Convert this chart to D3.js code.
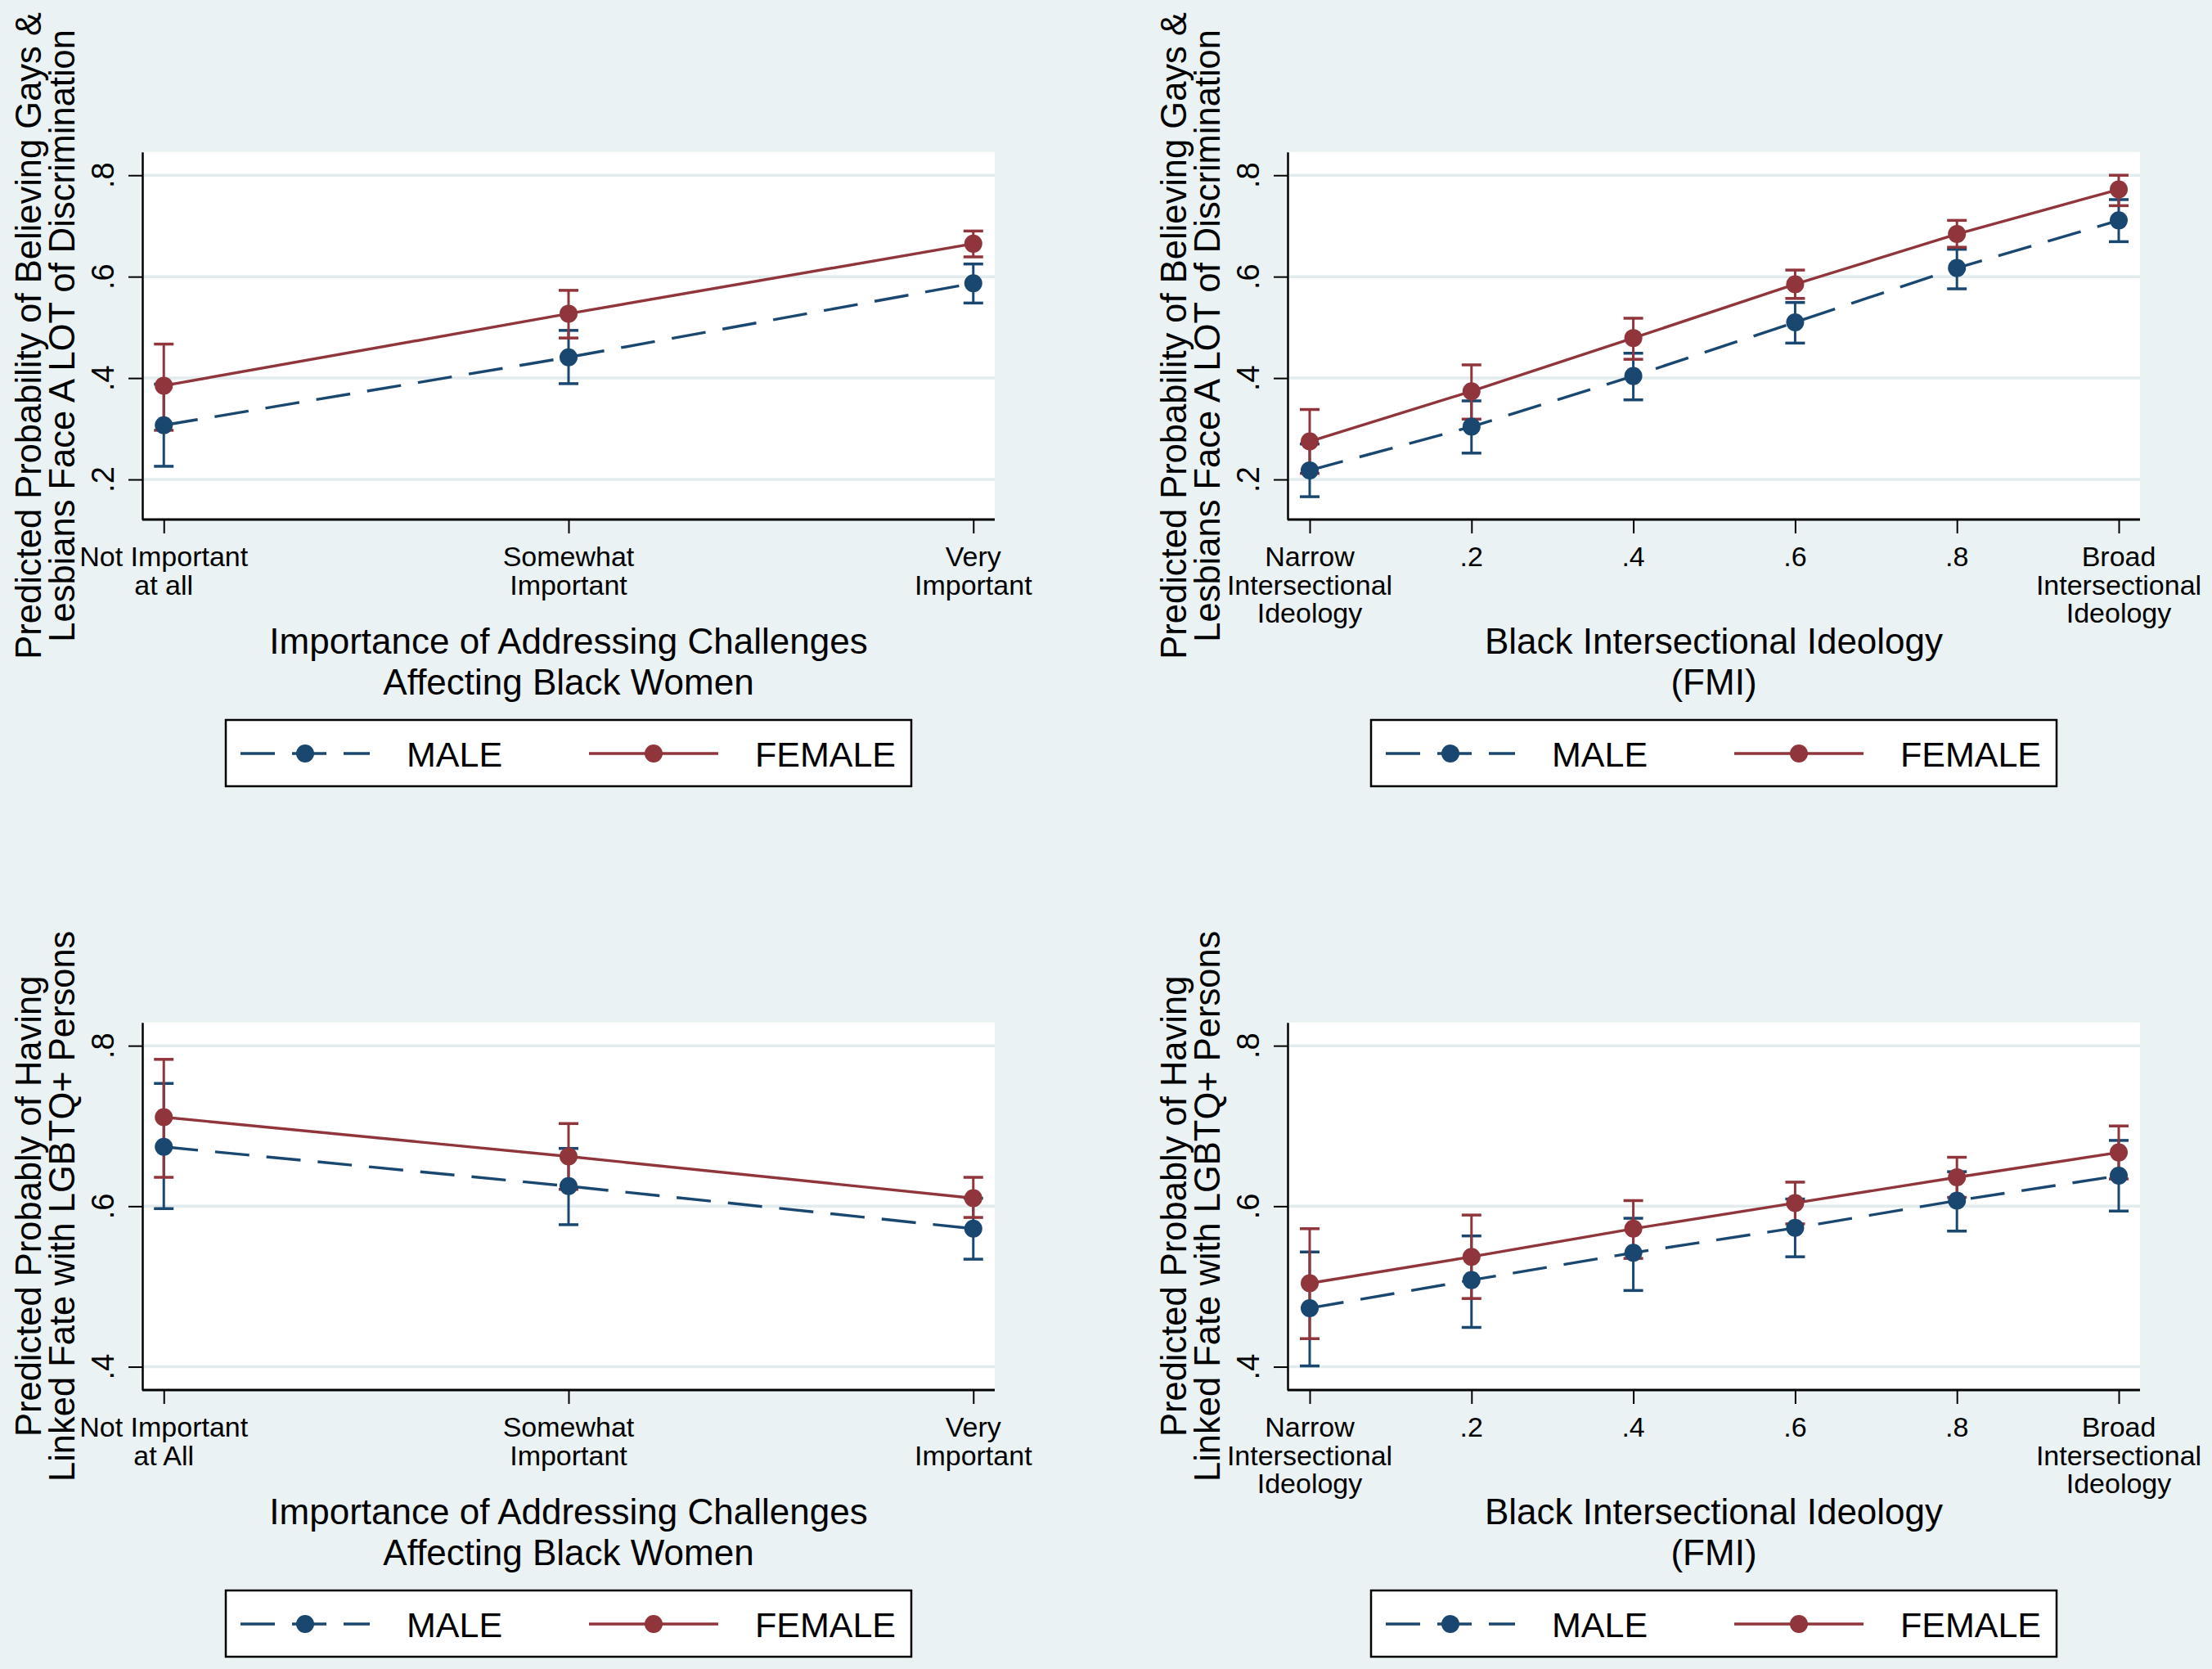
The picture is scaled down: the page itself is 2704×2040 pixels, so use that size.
<!DOCTYPE html>
<html><head><meta charset="utf-8">
<script src="https://cdn.jsdelivr.net/npm/d3@7"></script>
<style>html,body{margin:0;padding:0;background:#eaf2f3;} svg{display:block;}</style>
</head><body><svg id="chart"></svg>
<script>
// ---------- DATA ----------
const importanceCatsTop = ["Not Important\nat all", "Somewhat\nImportant", "Very\nImportant"];
const importanceCatsBottom = ["Not Important\nat All", "Somewhat\nImportant", "Very\nImportant"];
const fmiValues = [0, 0.2, 0.4, 0.6, 0.8, 1];
const fmiLabels = ["Narrow\nIntersectional\nIdeology", ".2", ".4", ".6", ".8", "Broad\nIntersectional\nIdeology"];
const yTicksTop = [0.2, 0.4, 0.6, 0.8];
const yTicksBottom = [0.4, 0.6, 0.8];
const seriesNames = ["MALE", "FEMALE"];

const yTitleTop = ["Predicted Probability of Believing Gays &", "Lesbians Face A LOT of Discrimination"];
const yTitleBottom = ["Predicted Probably of Having", "Linked Fate with LGBTQ+ Persons"];
const xTitleImportance = ["Importance of Addressing Challenges", "Affecting Black Women"];
const xTitleFMI = ["Black Intersectional Ideology", "(FMI)"];

// Panel 1: discrimination by importance
const p1Male = [0.307, 0.441, 0.587];
const p1MaleLo = [0.226, 0.389, 0.548];
const p1MaleHi = [0.388, 0.494, 0.625];
const p1Female = [0.385, 0.527, 0.665];
const p1FemaleLo = [0.297, 0.479, 0.639];
const p1FemaleHi = [0.467, 0.573, 0.690];

// Panel 2: discrimination by FMI
const p2Male = [0.218, 0.304, 0.404, 0.510, 0.617, 0.711];
const p2MaleLo = [0.166, 0.252, 0.357, 0.469, 0.576, 0.669];
const p2MaleHi = [0.270, 0.355, 0.449, 0.549, 0.654, 0.752];
const p2Female = [0.275, 0.374, 0.479, 0.585, 0.684, 0.772];
const p2FemaleLo = [0.212, 0.319, 0.437, 0.557, 0.658, 0.740];
const p2FemaleHi = [0.338, 0.426, 0.518, 0.613, 0.711, 0.800];

// Panel 3: linked fate by importance
const p3Male = [0.674, 0.625, 0.572];
const p3MaleLo = [0.597, 0.577, 0.534];
const p3MaleHi = [0.753, 0.672, 0.610];
const p3Female = [0.711, 0.662, 0.610];
const p3FemaleLo = [0.636, 0.621, 0.586];
const p3FemaleHi = [0.783, 0.703, 0.636];

// Panel 4: linked fate by FMI
const p4Male = [0.473, 0.508, 0.542, 0.573, 0.607, 0.638];
const p4MaleLo = [0.401, 0.449, 0.495, 0.537, 0.569, 0.594];
const p4MaleHi = [0.543, 0.563, 0.585, 0.609, 0.643, 0.682];
const p4Female = [0.504, 0.537, 0.572, 0.604, 0.636, 0.667];
const p4FemaleLo = [0.435, 0.485, 0.535, 0.578, 0.611, 0.634];
const p4FemaleHi = [0.572, 0.589, 0.607, 0.630, 0.661, 0.700];

const yDomainTop = [0.121, 0.846];
const yDomainBottom = [0.371, 0.829];

// ---------- STYLE ----------
const W = 2704, H = 2040;
const BG = "#eaf2f3", GRID = "#e2ebed";
const NAVY = "#1a476f", MAROON = "#90353b";
const FONT = "'Liberation Sans', Arial, Helvetica, sans-serif";

const svg = d3.select("#chart").attr("width", W).attr("height", H)
  .attr("viewBox", `0 0 ${W} ${H}`);
svg.append("rect").attr("width", W).attr("height", H).attr("fill", BG);

const panels = [
  {ox: 0, oy: 0, kind: "cat", cats: importanceCatsTop, yDomain: yDomainTop, yTicks: yTicksTop,
   yTitle: yTitleTop, xTitle: xTitleImportance,
   series: [{m: p1Male, lo: p1MaleLo, hi: p1MaleHi}, {m: p1Female, lo: p1FemaleLo, hi: p1FemaleHi}]},
  {ox: 1400, oy: 0, kind: "fmi", cats: fmiLabels, yDomain: yDomainTop, yTicks: yTicksTop,
   yTitle: yTitleTop, xTitle: xTitleFMI,
   series: [{m: p2Male, lo: p2MaleLo, hi: p2MaleHi}, {m: p2Female, lo: p2FemaleLo, hi: p2FemaleHi}]},
  {ox: 0, oy: 1064, kind: "cat", cats: importanceCatsBottom, yDomain: yDomainBottom, yTicks: yTicksBottom,
   yTitle: yTitleBottom, xTitle: xTitleImportance,
   series: [{m: p3Male, lo: p3MaleLo, hi: p3MaleHi}, {m: p3Female, lo: p3FemaleLo, hi: p3FemaleHi}]},
  {ox: 1400, oy: 1064, kind: "fmi", cats: fmiLabels, yDomain: yDomainBottom, yTicks: yTicksBottom,
   yTitle: yTitleBottom, xTitle: xTitleFMI,
   series: [{m: p4Male, lo: p4MaleLo, hi: p4MaleHi}, {m: p4Female, lo: p4FemaleLo, hi: p4FemaleHi}]}
];

const styles = [
  {color: NAVY, dash: "42,21"},
  {color: MAROON, dash: null}
];

const fmtTick = v => d3.format(".1f")(v).replace(/^0/, "");

panels.forEach(p => {
  const L = p.ox + 174, R = p.ox + 1216, T = p.oy + 185.7, B = p.oy + 635;
  const g = svg.append("g");

  g.append("rect").attr("x", L).attr("y", T).attr("width", R - L).attr("height", B - T).attr("fill", "#ffffff");

  const y = d3.scaleLinear().domain(p.yDomain).range([B, T]);
  let x, xs;
  if (p.kind === "cat") {
    x = d3.scalePoint().domain(d3.range(p.cats.length)).range([L, R]).padding(0.053);
    xs = d3.range(p.cats.length);
  } else {
    x = d3.scaleLinear().domain([0, 1]).range([L + 27, L + 1016]);
    xs = fmiValues;
  }

  // gridlines
  g.selectAll(".grid").data(p.yTicks).join("line")
    .attr("x1", L + 2).attr("x2", R).attr("y1", d => y(d)).attr("y2", d => y(d))
    .attr("stroke", GRID).attr("stroke-width", 3.5);

  // y axis
  const ya = g.append("g").attr("transform", `translate(${L},0)`)
    .call(d3.axisLeft(y).tickValues(p.yTicks).tickSize(17).tickSizeOuter(0).tickFormat(""));
  ya.select(".domain").attr("stroke", "#000").attr("stroke-width", 2.5);
  ya.selectAll(".tick line").attr("stroke", "#000").attr("stroke-width", 2);
  g.selectAll(".ylab").data(p.yTicks).join("text")
    .attr("x", L - 35).attr("y", d => y(d))
    .attr("transform", d => `rotate(-90, ${L - 35}, ${y(d)})`)
    .attr("text-anchor", "middle")
    .attr("font-family", FONT).attr("font-size", 38).attr("fill", "#000")
    .text(d => fmtTick(d));

  // x axis
  const xa = g.append("g").attr("transform", `translate(0,${B})`)
    .call((p.kind === "cat" ? d3.axisBottom(x) : d3.axisBottom(x).tickValues(fmiValues))
      .tickSize(17).tickSizeOuter(0).tickFormat(""));
  xa.select(".domain").attr("stroke", "#000").attr("stroke-width", 3)
    .attr("d", `M${L},0H${R}`);
  xa.selectAll(".tick line").attr("stroke", "#000").attr("stroke-width", 2);

  xs.forEach((v, i) => {
    const lines = p.cats[i].split("\n");
    const t = g.append("text").attr("text-anchor", "middle")
      .attr("font-family", FONT).attr("font-size", 34).attr("fill", "#000");
    lines.forEach((ln, j) => {
      t.append("tspan").attr("x", x(v)).attr("y", B + 57 + j * 34.7).text(ln);
    });
  });

  // x title (one text, two lines)
  const xt = g.append("text").attr("text-anchor", "middle").attr("font-family", FONT)
    .attr("font-size", 44).attr("fill", "#000");
  p.xTitle.forEach((ln, j) => {
    xt.append("tspan").attr("x", (L + R) / 2).attr("y", B + 164 + j * 50).text(ln);
  });

  // y title (one text, two lines)
  const cy = (T + B) / 2;
  const tx0 = p.ox + 50;
  const yt = g.append("text")
    .attr("transform", `translate(${tx0},${cy}) rotate(-90)`)
    .attr("text-anchor", "middle").attr("font-family", FONT).attr("font-size", 43.5)
    .attr("fill", "#000");
  p.yTitle.forEach((ln, j) => {
    yt.append("tspan").attr("x", 0).attr("y", j * 41).text(ln);
  });

  // confidence intervals
  p.series.forEach((s, si) => {
    const c = styles[si].color;
    const ci = g.append("g");
    xs.forEach((v, i) => {
      const cx = x(v);
      ci.append("line").attr("x1", cx).attr("x2", cx).attr("y1", y(s.lo[i])).attr("y2", y(s.hi[i]))
        .attr("stroke", c).attr("stroke-width", 3);
      [s.lo[i], s.hi[i]].forEach(e => {
        ci.append("line").attr("x1", cx - 12).attr("x2", cx + 12).attr("y1", y(e)).attr("y2", y(e))
          .attr("stroke", c).attr("stroke-width", 3.5);
      });
    });
  });

  // lines + markers
  p.series.forEach((s, si) => {
    const c = styles[si].color;
    const pts = xs.map((v, i) => [x(v), y(s.m[i])]);
    const path = g.append("path").attr("d", d3.line()(pts)).attr("fill", "none")
      .attr("stroke", c).attr("stroke-width", 3.4);
    if (styles[si].dash) path.attr("stroke-dasharray", styles[si].dash);
    g.selectAll(null).data(pts).join("circle")
      .attr("cx", d => d[0]).attr("cy", d => d[1]).attr("r", 11).attr("fill", c);
  });

  // legend
  const lg = g.append("g");
  const lx = p.ox + 276, ly = p.oy + 880;
  lg.append("rect").attr("x", lx).attr("y", ly).attr("width", 838).attr("height", 81)
    .attr("fill", "#fff").attr("stroke", "#000").attr("stroke-width", 2.5);
  const items = [{x0: lx + 18, tx: lx + 221}, {x0: lx + 444, tx: lx + 647}];
  seriesNames.forEach((nm, si) => {
    const it = items[si];
    const c = styles[si].color;
    const yy = ly + 41;
    const ln = lg.append("line").attr("x1", it.x0).attr("x2", it.x0 + 158).attr("y1", yy).attr("y2", yy)
      .attr("stroke", c).attr("stroke-width", 3.4);
    if (styles[si].dash) ln.attr("stroke-dasharray", styles[si].dash);
    lg.append("circle").attr("cx", it.x0 + 79).attr("cy", yy).attr("r", 11).attr("fill", c);
    lg.append("text").attr("x", it.tx).attr("y", ly + 57).attr("font-family", FONT)
      .attr("font-size", 43).attr("fill", "#000").text(nm);
  });
});
</script></body></html>
